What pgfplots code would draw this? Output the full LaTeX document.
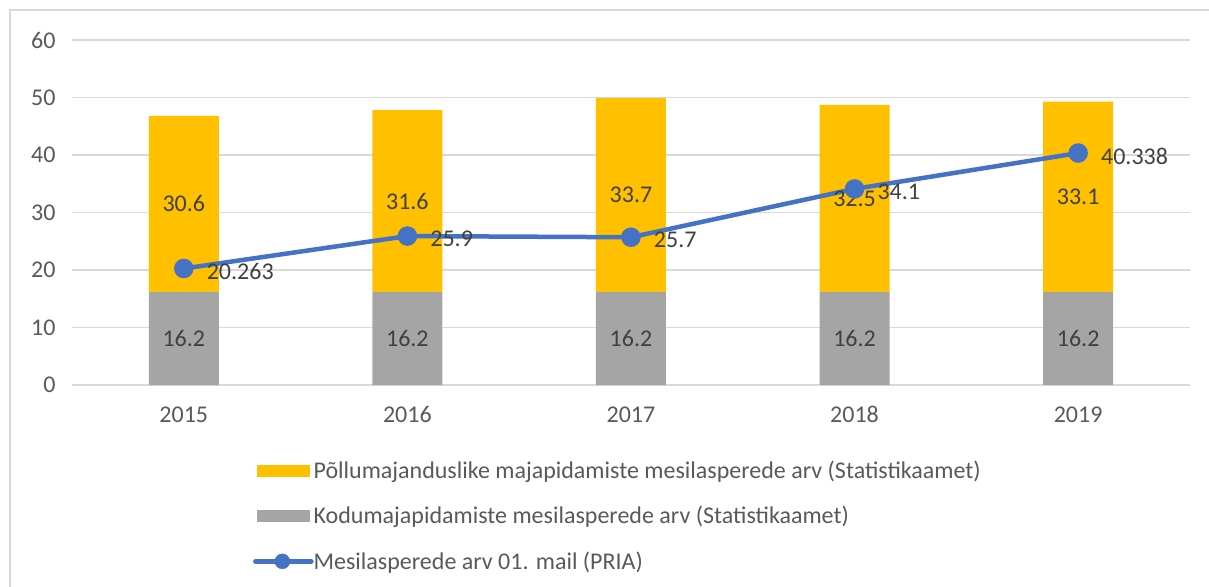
\documentclass[border=0pt]{standalone}
\usepackage{pgfplots}
\pgfplotsset{compat=1.18}
\usepackage{fontspec}
\setmainfont{Carlito}
\definecolor{cYel}{HTML}{FFC000}
\definecolor{cGray}{HTML}{A5A5A5}
\definecolor{cBlue}{HTML}{4472C4}
\definecolor{cGrid}{HTML}{D9D9D9}
\definecolor{cTick}{HTML}{595959}
\definecolor{cLab}{HTML}{404040}
\newcommand\cf{\fontsize{24bp}{28bp}\selectfont}
\begin{document}
\begin{tikzpicture}
\useasboundingbox (0,0) rectangle (1209bp,-587bp);
\draw[cGrid, line width=1.5bp] (10bp,-587bp) -- (10bp,-10bp) -- (1209bp,-10bp);
\begin{axis}[
  at={(72bp,-385bp)}, anchor=south west,
  width=1118bp, height=345bp, scale only axis,
  xmin=-0.5, xmax=4.5, ymin=0, ymax=60,
  xtick={0,...,4}, xticklabels={2015,2016,2017,2018,2019},
  ytick={0,10,...,60},
  ymajorgrids, grid style={cGrid, line width=1.3bp},
  axis line style={draw=none}, major tick length=0pt,
  tick label style={font=\cf, text=cTick},
  /pgf/number format/assume math mode=true,
  yticklabel style={xshift=-13bp},
  xticklabel style={yshift=-18bp},
  clip=false,
  legend style={at={(0.162,-0.2195)}, anchor=north west, draw=none, fill=none,
    inner sep=0pt, outer sep=0pt, row sep=26.5bp, font=\cf, text=cTick,
    cells={anchor=west}, nodes={inner sep=0bp, outer sep=0bp},
    /tikz/every odd column/.append style={column sep=0bp}},
  legend cell align=left,
]
\addlegendimage{legend image code/.code={\fill[cYel] (0bp,-5.5bp) rectangle (52bp,5.5bp);}}
\addlegendentry{Põllumajanduslike majapidamiste mesilasperede arv (Statistikaamet)}
\addlegendimage{legend image code/.code={\fill[cGray] (0bp,-5.5bp) rectangle (52bp,5.5bp);}}
\addlegendentry{Kodumajapidamiste mesilasperede arv (Statistikaamet)}
\addlegendimage{legend image code/.code={\draw[cBlue, line width=4.5bp, line cap=round] (-2bp,0bp) -- (54bp,0bp); \fill[cBlue] (25bp,0bp) circle (7.5bp);}}
\addlegendentry{Mesilasperede arv 01. mail (PRIA)}

\addplot[ybar, bar width=70bp, stack plots=y, fill=cGray, draw=none]
  coordinates {(0,16.2) (1,16.2) (2,16.2) (3,16.2) (4,16.2)};
\addplot[ybar, bar width=70bp, stack plots=y, fill=cYel, draw=none]
  coordinates {(0,30.6) (1,31.6) (2,33.7) (3,32.5) (4,33.1)};

% segment labels (centred in each segment)
\addplot[stack plots=false, only marks, mark=none, point meta=explicit symbolic,
  nodes near coords, every node near coord/.style={anchor=center, font=\cf, text=cLab}]
  table[meta=lab] {
x y lab
0 8.1 16.2
1 8.1 16.2
2 8.1 16.2
3 8.1 16.2
4 8.1 16.2
0 31.5 30.6
1 32.0 31.6
2 33.05 33.7
3 32.45 32.5
4 32.75 33.1
};

\addplot[stack plots=false, sharp plot, cBlue, line width=4.5bp, mark=*,
  mark size=7.5bp, mark options={fill=cBlue, draw=none},
  point meta=explicit symbolic, nodes near coords,
  every node near coord/.style={anchor=west, inner xsep=0bp, outer xsep=23bp, outer ysep=0bp, yshift=-3bp, font=\cf, text=cLab}]
  table[meta=lab] {
x y lab
0 20.263 20.263
1 25.9 25.9
2 25.7 25.7
3 34.1 34.1
4 40.338 40.338
};
\end{axis}
\end{tikzpicture}
\end{document}
